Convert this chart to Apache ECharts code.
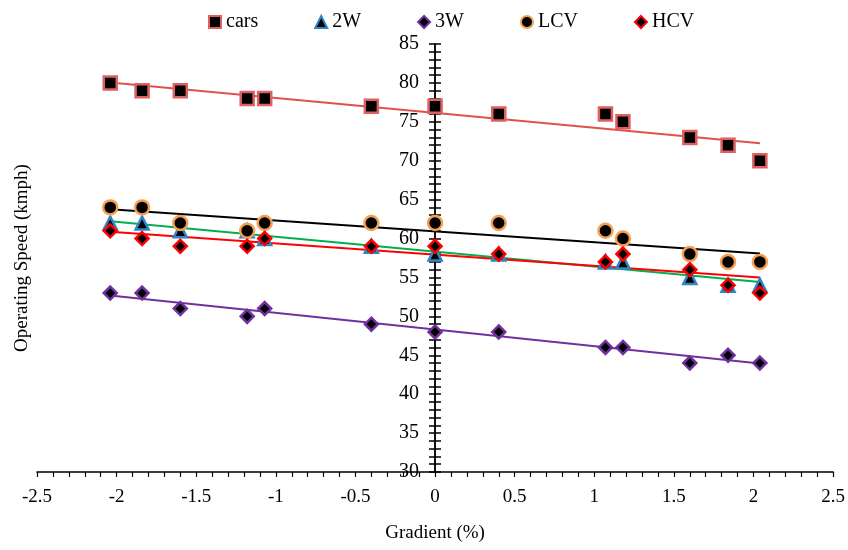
<!DOCTYPE html>
<html>
<head>
<meta charset="utf-8">
<script src="https://cdn.jsdelivr.net/npm/echarts@6/dist/echarts.min.js"></script>
<style>
html, body { margin: 0; padding: 0; background: #fff; }
#chart { width: 848px; height: 550px; }
</style>
</head>
<body>
<div id="chart"></div>
<script>
// gradient values (%) shared by every vehicle class
var gradients = [-2.04, -1.84, -1.6, -1.18, -1.07, -0.4, 0, 0.4, 1.07, 1.18, 1.6, 1.84, 2.04];

var cars = [80, 79, 79, 78, 78, 77, 77, 76, 76, 75, 73, 72, 70];
var twoW = [62, 62, 61, 61, 60, 59, 58, 58, 57, 57, 55, 54, 54];
var threeW = [53, 53, 51, 50, 51, 49, 48, 48, 46, 46, 44, 45, 44];
var lcv = [64, 64, 62, 61, 62, 62, 62, 62, 61, 60, 58, 57, 57];
var hcv = [61, 60, 59, 59, 60, 59, 59, 58, 57, 58, 56, 54, 53];

var seriesNames = ['cars', '2W', '3W', 'LCV', 'HCV'];

var font = 'Liberation Serif';

function pairs(ys) {
    return gradients.map(function (x, i) { return [x, ys[i]]; });
}

// least squares line like excel's linear trendline
function trend(ys) {
    var n = gradients.length, sx = 0, sy = 0, sxx = 0, sxy = 0;
    for (var i = 0; i < n; i++) {
        sx += gradients[i]; sy += ys[i];
        sxx += gradients[i] * gradients[i]; sxy += gradients[i] * ys[i];
    }
    var b = (n * sxy - sx * sy) / (n * sxx - sx * sx);
    var a = (sy - b * sx) / n;
    var x0 = gradients[0], x1 = gradients[n - 1];
    return [[x0, a + b * x0], [x1, a + b * x1]];
}

function scatter(name, ys, symbol, size, border) {
    return {
        name: name,
        type: 'scatter',
        data: pairs(ys),
        symbol: symbol,
        symbolSize: size,
        z: 5,
        itemStyle: { color: '#000', opacity: 1, borderColor: border, borderWidth: 2.5 }
    };
}

function trendLine(ys, color) {
    return {
        type: 'line',
        data: trend(ys),
        symbol: 'none',
        silent: true,
        z: 3,
        lineStyle: { color: color, width: 2 }
    };
}

var chart = echarts.init(document.getElementById('chart'));

var axisBlack = { color: '#000', width: 1.5 };
var yMin = 30, yMax = 85, yStep = 5;

var option = {
    animation: false,
    backgroundColor: '#fff',
    legend: {
        data: seriesNames,
        top: 7,
        left: 203,
        itemGap: 56,
        itemWidth: 12,
        itemHeight: 12,
        textStyle: { fontFamily: font, fontSize: 20, color: '#000' }
    },
    // grid 0 holds the data, grid 1 starts at x = 0 and carries the visible y axis
    grid: [
        { left: 37, right: 14, top: 44, bottom: 78 },
        { left: 435, right: 14, top: 44, bottom: 78 }
    ],
    xAxis: [{
        type: 'value',
        gridIndex: 0,
        min: -2.5,
        max: 2.5,
        interval: 0.5,
        name: 'Gradient (%)',
        nameLocation: 'middle',
        nameGap: 52,
        nameTextStyle: { fontFamily: font, fontSize: 19, color: '#000' },
        splitLine: { show: false },
        axisLine: { onZero: false, lineStyle: axisBlack },
        axisTick: { length: 5, lineStyle: { color: '#000', width: 1.2 } },
        minorTick: { show: true, splitNumber: 5, length: 5, lineStyle: { color: '#000', width: 1.2 } },
        axisLabel: { fontFamily: font, fontSize: 19, color: '#000', margin: 16 }
    }, {
        type: 'value',
        gridIndex: 1,
        min: 0,
        max: 2.5,
        show: false
    }],
    yAxis: [{
        type: 'value',
        gridIndex: 0,
        min: yMin,
        max: yMax,
        interval: yStep,
        show: false
    }, {
        type: 'value',
        gridIndex: 1,
        min: yMin,
        max: yMax,
        interval: yStep,
        position: 'left',
        splitLine: { show: false },
        axisLine: { onZero: false, lineStyle: axisBlack },
        axisTick: { length: 6, lineStyle: axisBlack },
        minorTick: { show: true, splitNumber: 5, length: 6, lineStyle: axisBlack },
        axisLabel: { fontFamily: font, fontSize: 20, color: '#000', margin: 16 }
    }, {
        type: 'value',
        gridIndex: 1,
        min: yMin,
        max: yMax,
        interval: yStep,
        position: 'left',
        splitLine: { show: false },
        axisLine: { onZero: false, lineStyle: axisBlack },
        axisLabel: { show: false },
        axisTick: { inside: true, length: 6, lineStyle: axisBlack },
        minorTick: { show: true, splitNumber: 5, length: 6, lineStyle: axisBlack }
    }],
    graphic: [{
        type: 'text',
        x: 22,
        y: 258,
        rotation: Math.PI / 2,
        style: {
            text: 'Operating Speed (kmph)',
            font: '19px "Liberation Serif"',
            fill: '#000',
            align: 'center',
            verticalAlign: 'middle'
        }
    }],
    series: [
        trendLine(cars, '#e2504a'),
        trendLine(twoW, '#00b050'),
        trendLine(threeW, '#7030a0'),
        trendLine(lcv, '#000000'),
        trendLine(hcv, '#ff0000'),
        scatter('cars', cars, 'rect', 13, '#e06060'),
        scatter('2W', twoW, 'triangle', 13, '#2e86c8'),
        scatter('3W', threeW, 'diamond', 13, '#7030a0'),
        scatter('LCV', lcv, 'circle', 14, '#f4a050'),
        scatter('HCV', hcv, 'diamond', 13, '#ff0000')
    ]
};

chart.setOption(option);
</script>
</body>
</html>
